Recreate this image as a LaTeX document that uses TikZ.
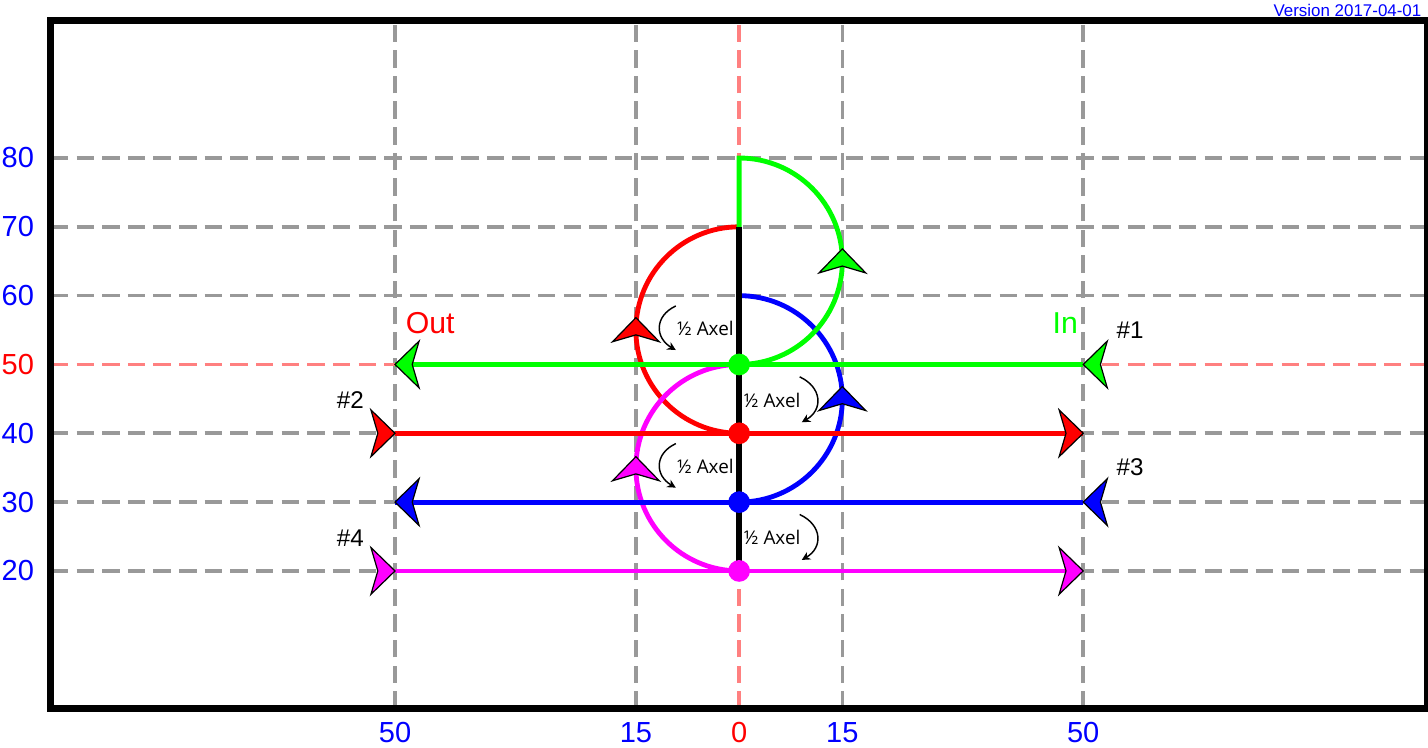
\documentclass[tikz,border=0pt]{standalone}
\usepackage{fontspec}
\setmainfont{Liberation Sans}
\newfontfamily\axelfont{Open Sans}
\usetikzlibrary{arrows.meta}
\definecolor{gridgrey}{RGB}{153,153,153}
\definecolor{gridred}{RGB}{255,128,128}
\definecolor{skgreen}{RGB}{0,255,0}
\definecolor{skred}{RGB}{255,0,0}
\definecolor{skblue}{RGB}{0,0,255}
\definecolor{skmagenta}{RGB}{255,0,255}
\begin{document}
\begin{tikzpicture}[x=0.1cm,y=0.1cm,
  gridline/.style={draw=gridgrey,line width=1.5pt,dash pattern=on 7.2pt off 3.4pt},
  zeroline/.style={gridline,draw=gridred},
  track/.style={line width=2pt},
  dot/.style={circle,fill=#1,inner sep=0pt,minimum size=9pt},
  pics/tipmark/.style={code={\draw[black,line width=0.5pt,fill=#1] (0,0) -- (-3.5,3.4) -- (-2.5,0) -- (-3.5,-3.4) -- cycle;}},
  axisnum/.style={text=skblue,font=\fontsize{12}{14}\selectfont,inner sep=0pt},
  skater/.style={font=\fontsize{10}{12}\selectfont,inner sep=0pt},
  way/.style={font=\fontsize{12.5}{14}\selectfont,inner sep=0pt},
  axel/.style={font=\axelfont\fontsize{7.8}{9}\selectfont,inner sep=0pt},
  turn/.style={line width=0.6pt,-{Stealth[length=3.5pt,width=3.5pt]},looseness=1.4}]
\useasboundingbox (-107.4,-5.71) rectangle (100.1,102.96);
% rink grid
\foreach \y in {20,30,40,60,70,80}
  \draw[gridline] (-100,\y) -- (100,\y);
\foreach \x in {-50,-15,15,50}
  \draw[gridline] (\x,0) -- (\x,100);
\draw[zeroline] (-100,50) -- (100,50);
\draw[zeroline] (0,0) -- (0,100);
\draw[line width=2.9pt] (-100,0) rectangle (100,100);
% points on the axis
\coordinate (m-c) at (0,20);
\coordinate (b-c) at (0,30);
\coordinate (r-c) at (0,40);
\coordinate (g-c) at (0,50);
\coordinate (b-top) at (0,60);
\coordinate (r-top) at (0,70);
% half circles
\draw[track,skblue] (b-top) arc[start angle=90,end angle=-90,radius=15];
\draw[track,skred] (r-top) arc[start angle=90,end angle=270,radius=15];
\draw[track,skmagenta] (g-c) arc[start angle=90,end angle=270,radius=15];
\draw[track,skgreen] (g-c) arc[start angle=-90,end angle=90,radius=15] -- (r-top);
% straight runs
\draw[track,skgreen] (50,50) -- (-50,50);
\draw[track,skred] (-50,40) -- (50,40);
\draw[track,skblue] (50,30) -- (-50,30);
\draw[track,skmagenta] (-50,20) -- (50,20);
\draw[line width=2.3pt] (m-c) -- (r-top);
\node[dot=skgreen] (g-dot) at (g-c) {};
\node[dot=skred] (r-dot) at (r-c) {};
\node[dot=skblue] (b-dot) at (b-c) {};
\node[dot=skmagenta] (m-dot) at (m-c) {};
% direction marks
\pic[rotate=180] at (50,50) {tipmark=skgreen};
\pic[rotate=180] at (-50,50) {tipmark=skgreen};
\pic at (-50,40) {tipmark=skred};
\pic at (50,40) {tipmark=skred};
\pic[rotate=180] at (50,30) {tipmark=skblue};
\pic[rotate=180] at (-50,30) {tipmark=skblue};
\pic at (-50,20) {tipmark=skmagenta};
\pic at (50,20) {tipmark=skmagenta};
\pic[rotate=90] at (15,66.8) {tipmark=skgreen};
\pic[rotate=90] at (-15,56.8) {tipmark=skred};
\pic[rotate=90] at (15,46.8) {tipmark=skblue};
\pic[rotate=90] at (-15,36.6) {tipmark=skmagenta};
% labels
\node[axel] (ax1) at (-4.9,55.2) {½ Axel};
\node[axel] (ax2) at (4.8,44.8) {½ Axel};
\node[axel] (ax3) at (-4.9,35.2) {½ Axel};
\node[axel] (ax4) at (4.8,24.8) {½ Axel};
\draw[turn] ([shift={(-4.3,3.3)}]ax1.center) to[out=205,in=150] ([shift={(-4.3,-3.1)}]ax1.center);
\draw[turn] ([shift={(4.0,3.4)}]ax2.center) to[out=-25,in=30] ([shift={(4.3,-3.2)}]ax2.center);
\draw[turn] ([shift={(-4.3,3.3)}]ax3.center) to[out=205,in=150] ([shift={(-4.3,-3.1)}]ax3.center);
\draw[turn] ([shift={(4.0,3.4)}]ax4.center) to[out=-25,in=30] ([shift={(4.3,-3.2)}]ax4.center);
\node[skater] (s1) at (56.8,55.0) {\#1};
\node[skater] (s2) at (-56.5,44.8) {\#2};
\node[skater] (s3) at (56.8,35.1) {\#3};
\node[skater] (s4) at (-56.5,24.8) {\#4};
\node[way,text=skred] (out) at (-44.9,56.0) {Out};
\node[way,text=skgreen] (in) at (47.4,56.0) {In};
% axis numbers
\foreach \y in {20,30,40,60,70,80}
  \node[axisnum] (yl\y) at (-104.8,\y) {\y};
\node[axisnum,text=skred] (yl50) at (-104.8,50) {50};
\foreach \x/\t in {-50/50,-15/15,15/15,50/50}
  \node[axisnum] (xl\x) at (\x,-3.5) {\t};
\node[axisnum,text=skred] (xl0) at (0,-3.5) {0};
\node[anchor=east,text=skblue,font=\fontsize{7}{8}\selectfont,inner sep=0pt] (version) at (99.2,101.4) {Version 2017-04-01};
\end{tikzpicture}
\end{document}
